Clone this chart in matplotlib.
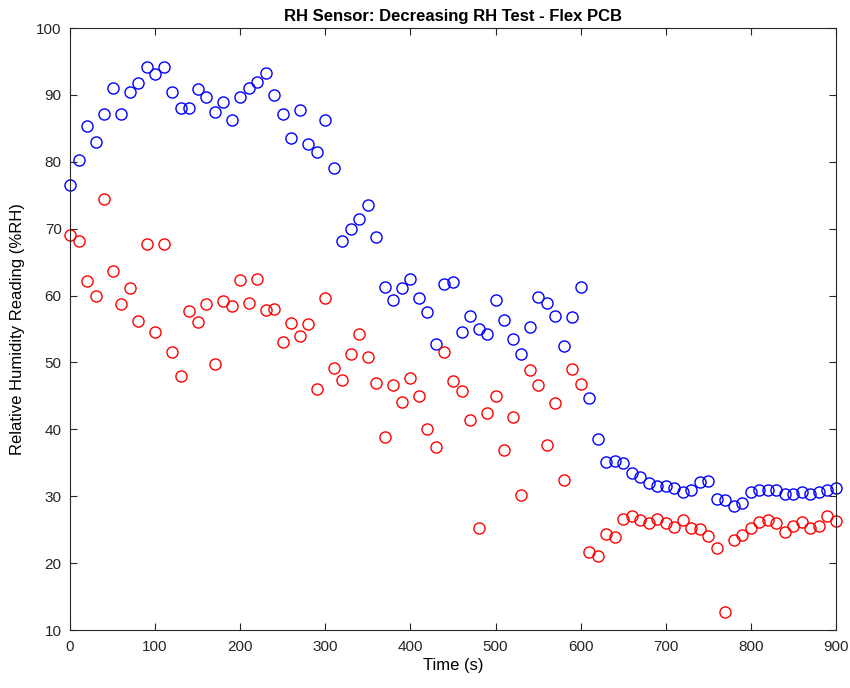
import numpy as np
import matplotlib
matplotlib.use("Agg")
import matplotlib.pyplot as plt

plt.rcParams['font.family'] = ['Liberation Sans', 'DejaVu Sans']

time_s = np.arange(0, 901, 10)

blue_rh = [76.5, 80.3, 85.3, 83.0, 87.1, 91.1, 87.1, 90.5, 91.8, 94.2,
           93.1, 94.2, 90.5, 88.1, 88.1, 90.9, 89.7, 87.5, 89.0, 86.3,
           89.7, 91.1, 92.0, 93.2, 90.0, 87.2, 83.6, 87.7, 82.6, 81.4,
           86.2, 79.1, 68.1, 69.9, 71.4, 73.5, 68.8, 61.3, 59.4, 61.1,
           62.5, 59.6, 57.6, 52.8, 61.8, 62.0, 54.5, 57.0, 55.0, 54.2,
           59.4, 56.3, 53.5, 51.2, 55.3, 59.8, 58.9, 56.9, 52.5, 56.8,
           61.3, 44.7, 38.5, 35.1, 35.3, 34.9, 33.4, 32.8, 32.0, 31.5,
           31.5, 31.2, 30.7, 31.0, 32.1, 32.3, 29.6, 29.4, 28.6, 29.0,
           30.6, 31.0, 31.0, 30.9, 30.4, 30.3, 30.7, 30.4, 30.6, 30.9,
           31.3]

red_rh = [69.1, 68.1, 62.2, 60.0, 74.5, 63.6, 58.8, 61.1, 56.2, 67.7,
          54.6, 67.7, 51.6, 48.0, 57.7, 56.1, 58.7, 49.7, 59.2, 58.5,
          62.3, 58.9, 62.5, 57.8, 58.0, 53.0, 55.9, 54.0, 55.8, 46.0,
          59.7, 49.1, 47.4, 51.2, 54.3, 50.8, 46.9, 38.8, 46.7, 44.1,
          47.7, 45.0, 40.0, 37.4, 51.6, 47.2, 45.8, 41.4, 25.2, 42.5,
          45.0, 36.9, 41.8, 30.2, 48.8, 46.6, 37.6, 44.0, 32.4, 49.0,
          46.8, 21.7, 21.0, 24.3, 23.9, 26.6, 27.1, 26.5, 26.0, 26.6,
          26.0, 25.4, 26.4, 25.3, 25.1, 24.0, 22.3, 12.7, 23.4, 24.2,
          25.2, 26.1, 26.4, 26.0, 24.6, 25.6, 26.1, 25.2, 25.5, 27.0,
          26.3]

fig = plt.figure(figsize=(8.5, 6.88), dpi=100)
ax = fig.add_axes([70 / 850, 1 - 630 / 688, 766 / 850, 602 / 688])

# MATLAB style: markers are not clipped at the axes edge
ax.plot(time_s, blue_rh, 'o', mfc='none', mec='#0000ff', ms=8, mew=1.0, clip_on=False)
ax.plot(time_s, red_rh, 'o', mfc='none', mec='#ff0000', ms=8, mew=1.0, clip_on=False)

ax.set_xlim(0, 900)
ax.set_ylim(10, 100)
ax.set_xticks(np.arange(0, 901, 100))
ax.set_yticks(np.arange(10, 101, 10))
ax.tick_params(direction='in', length=5, labelsize=11, colors='#262626',
               top=True, right=True)
ax.tick_params(axis='x', pad=7)
ax.tick_params(axis='y', pad=6)
for s in ax.spines.values():
    s.set_color('#262626')
    s.set_linewidth(0.8)

ax.set_title('RH Sensor: Decreasing RH Test - Flex PCB', fontsize=12,
             fontweight='bold', pad=5)
ax.set_xlabel('Time (s)', fontsize=12, labelpad=3)
ax.set_ylabel('Relative Humidity Reading (%RH)', fontsize=12, labelpad=8)

fig.savefig('out.png', dpi=100)
